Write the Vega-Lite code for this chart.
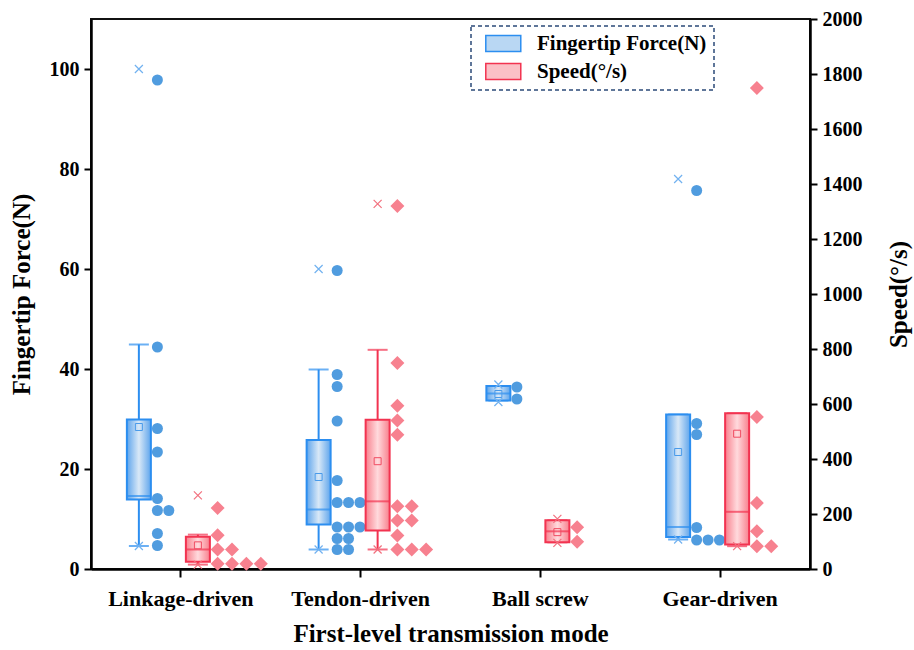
{
  "$schema": "https://vega.github.io/schema/vega-lite/v6.json",
  "width": 719,
  "height": 550,
  "autosize": {"type": "none"},
  "padding": {"left": 91, "top": 19, "right": 104, "bottom": 81},
  "background": "white",
  "config": {
    "view": {"stroke": "#111", "strokeWidth": 2},
    "font": "Liberation Serif",
    "axis": {
      "grid": false,
      "domainColor": "#000",
      "domainWidth": 2.5,
      "tickColor": "#000",
      "tickWidth": 2,
      "tickSize": 7,
      "labelFont": "Liberation Serif",
      "labelFontWeight": "bold",
      "labelFontSize": 20,
      "labelColor": "#000",
      "titleFont": "Liberation Serif",
      "titleFontWeight": "bold",
      "titleFontSize": 25,
      "titleColor": "#000"
    }
  },
  "datasets": {
    "boxes": [
      {"mode": "Linkage-driven", "series": "Fingertip Force(N)", "q1": 13.9, "median": 14.6, "q3": 29.9, "mean": 28.4, "lo": 4.6, "hi": 44.9, "min": 4.6, "max": 100},
      {"mode": "Tendon-driven", "series": "Fingertip Force(N)", "q1": 8.9, "median": 11.9, "q3": 25.8, "mean": 18.4, "lo": 3.9, "hi": 39.9, "min": 3.9, "max": 60},
      {"mode": "Ball screw", "series": "Fingertip Force(N)", "q1": 33.7, "median": 35.1, "q3": 36.6, "mean": 35.0, "lo": 33.7, "hi": 36.6, "min": 33.4, "max": 36.9},
      {"mode": "Gear-driven", "series": "Fingertip Force(N)", "q1": 6.4, "median": 8.4, "q3": 30.9, "mean": 23.4, "lo": 5.9, "hi": 30.9, "min": 5.9, "max": 78},
      {"mode": "Linkage-driven", "series": "Speed(°/s)", "q1": 26, "median": 71, "q3": 117, "mean": 86, "lo": 16, "hi": 125, "min": 16, "max": 268},
      {"mode": "Tendon-driven", "series": "Speed(°/s)", "q1": 140, "median": 246, "q3": 543, "mean": 392, "lo": 71, "hi": 797, "min": 71, "max": 1328},
      {"mode": "Ball screw", "series": "Speed(°/s)", "q1": 97, "median": 137, "q3": 177, "mean": 134, "lo": 97, "hi": 177, "min": 95, "max": 182},
      {"mode": "Gear-driven", "series": "Speed(°/s)", "q1": 89, "median": 208, "q3": 566, "mean": 492, "lo": 83, "hi": 566, "min": 83, "max": null}
    ],
    "points": [
      {"mode": "Linkage-driven", "series": "Fingertip Force(N)", "value": 97.8},
      {"mode": "Linkage-driven", "series": "Fingertip Force(N)", "value": 44.4},
      {"mode": "Linkage-driven", "series": "Fingertip Force(N)", "value": 28.1},
      {"mode": "Linkage-driven", "series": "Fingertip Force(N)", "value": 23.4},
      {"mode": "Linkage-driven", "series": "Fingertip Force(N)", "value": 14.1},
      {"mode": "Linkage-driven", "series": "Fingertip Force(N)", "value": 11.7},
      {"mode": "Linkage-driven", "series": "Fingertip Force(N)", "value": 11.7},
      {"mode": "Linkage-driven", "series": "Fingertip Force(N)", "value": 7.1},
      {"mode": "Linkage-driven", "series": "Fingertip Force(N)", "value": 4.7},
      {"mode": "Tendon-driven", "series": "Fingertip Force(N)", "value": 59.7},
      {"mode": "Tendon-driven", "series": "Fingertip Force(N)", "value": 38.9},
      {"mode": "Tendon-driven", "series": "Fingertip Force(N)", "value": 36.5},
      {"mode": "Tendon-driven", "series": "Fingertip Force(N)", "value": 29.6},
      {"mode": "Tendon-driven", "series": "Fingertip Force(N)", "value": 17.7},
      {"mode": "Tendon-driven", "series": "Fingertip Force(N)", "value": 13.3},
      {"mode": "Tendon-driven", "series": "Fingertip Force(N)", "value": 13.3},
      {"mode": "Tendon-driven", "series": "Fingertip Force(N)", "value": 13.3},
      {"mode": "Tendon-driven", "series": "Fingertip Force(N)", "value": 8.4},
      {"mode": "Tendon-driven", "series": "Fingertip Force(N)", "value": 8.4},
      {"mode": "Tendon-driven", "series": "Fingertip Force(N)", "value": 8.4},
      {"mode": "Tendon-driven", "series": "Fingertip Force(N)", "value": 6.1},
      {"mode": "Tendon-driven", "series": "Fingertip Force(N)", "value": 6.1},
      {"mode": "Tendon-driven", "series": "Fingertip Force(N)", "value": 3.9},
      {"mode": "Tendon-driven", "series": "Fingertip Force(N)", "value": 3.9},
      {"mode": "Ball screw", "series": "Fingertip Force(N)", "value": 36.4},
      {"mode": "Ball screw", "series": "Fingertip Force(N)", "value": 34.0},
      {"mode": "Gear-driven", "series": "Fingertip Force(N)", "value": 75.7},
      {"mode": "Gear-driven", "series": "Fingertip Force(N)", "value": 29.1},
      {"mode": "Gear-driven", "series": "Fingertip Force(N)", "value": 26.9},
      {"mode": "Gear-driven", "series": "Fingertip Force(N)", "value": 8.3},
      {"mode": "Gear-driven", "series": "Fingertip Force(N)", "value": 5.8},
      {"mode": "Gear-driven", "series": "Fingertip Force(N)", "value": 5.8},
      {"mode": "Gear-driven", "series": "Fingertip Force(N)", "value": 5.8},
      {"mode": "Linkage-driven", "series": "Speed(°/s)", "value": 222},
      {"mode": "Linkage-driven", "series": "Speed(°/s)", "value": 123},
      {"mode": "Linkage-driven", "series": "Speed(°/s)", "value": 71},
      {"mode": "Linkage-driven", "series": "Speed(°/s)", "value": 71},
      {"mode": "Linkage-driven", "series": "Speed(°/s)", "value": 19},
      {"mode": "Linkage-driven", "series": "Speed(°/s)", "value": 19},
      {"mode": "Linkage-driven", "series": "Speed(°/s)", "value": 19},
      {"mode": "Linkage-driven", "series": "Speed(°/s)", "value": 19},
      {"mode": "Tendon-driven", "series": "Speed(°/s)", "value": 1320},
      {"mode": "Tendon-driven", "series": "Speed(°/s)", "value": 749},
      {"mode": "Tendon-driven", "series": "Speed(°/s)", "value": 594},
      {"mode": "Tendon-driven", "series": "Speed(°/s)", "value": 540},
      {"mode": "Tendon-driven", "series": "Speed(°/s)", "value": 488},
      {"mode": "Tendon-driven", "series": "Speed(°/s)", "value": 228},
      {"mode": "Tendon-driven", "series": "Speed(°/s)", "value": 228},
      {"mode": "Tendon-driven", "series": "Speed(°/s)", "value": 176},
      {"mode": "Tendon-driven", "series": "Speed(°/s)", "value": 176},
      {"mode": "Tendon-driven", "series": "Speed(°/s)", "value": 122},
      {"mode": "Tendon-driven", "series": "Speed(°/s)", "value": 71},
      {"mode": "Tendon-driven", "series": "Speed(°/s)", "value": 71},
      {"mode": "Tendon-driven", "series": "Speed(°/s)", "value": 71},
      {"mode": "Ball screw", "series": "Speed(°/s)", "value": 152},
      {"mode": "Ball screw", "series": "Speed(°/s)", "value": 99},
      {"mode": "Gear-driven", "series": "Speed(°/s)", "value": 1749},
      {"mode": "Gear-driven", "series": "Speed(°/s)", "value": 553},
      {"mode": "Gear-driven", "series": "Speed(°/s)", "value": 240},
      {"mode": "Gear-driven", "series": "Speed(°/s)", "value": 137},
      {"mode": "Gear-driven", "series": "Speed(°/s)", "value": 83},
      {"mode": "Gear-driven", "series": "Speed(°/s)", "value": 83}
    ]
  },
  "encoding": {
    "x": {
      "field": "mode",
      "type": "nominal",
      "sort": ["Linkage-driven", "Tendon-driven", "Ball screw", "Gear-driven"],
      "scale": {"paddingInner": 0, "paddingOuter": 0},
      "title": "First-level transmission mode",
      "axis": {"labelAngle": 0, "labelPadding": 11, "titlePadding": 12, "tickSize": 8, "labelFontSize": 22}
    }
  },
  "layer": [
    {
      "data": {"name": "boxes"},
      "transform": [{"filter": "datum.series == 'Fingertip Force(N)'"}],
      "encoding": {
        "y": {"type": "quantitative", "scale": {"domain": [0, 110], "nice": false}, "title": "Fingertip Force(N)",
              "axis": {"orient": "left", "values": [0, 20, 40, 60, 80, 100], "labelPadding": 5, "titlePadding": 15}}
      },
      "layer": [
        {"mark": {"type": "rule", "xOffset": -42, "color": "#2C8EF0", "strokeWidth": 2},
         "encoding": {"y": {"field": "lo", "type": "quantitative", "title": "Fingertip Force(N)"}, "y2": {"field": "hi"}}},
        {"mark": {"type": "tick", "xOffset": -42, "color": "#2C8EF0", "size": 20, "thickness": 2},
         "encoding": {"y": {"field": "lo", "type": "quantitative", "title": "Fingertip Force(N)"}}},
        {"mark": {"type": "tick", "xOffset": -42, "color": "#2C8EF0", "size": 20, "thickness": 2},
         "encoding": {"y": {"field": "hi", "type": "quantitative", "title": "Fingertip Force(N)"}}},
        {"mark": {"type": "bar", "xOffset": -42, "size": 24},
         "encoding": {
           "y": {"field": "q3", "type": "quantitative", "title": "Fingertip Force(N)"}, "y2": {"field": "q1"},
           "fill": {"datum": "Fingertip Force(N)", "type": "nominal",
                    "scale": {"domain": ["Fingertip Force(N)", "Speed(°/s)"], "range": ["#B9D7F3", "#FBC0C6"]},
                    "legend": {
                      "orient": "none", "legendX": 380, "legendY": 7, "title": null, "direction": "vertical",
                      "symbolType": "M-0.31,-0.92H3.69V0.92H-0.31Z", "symbolSize": 306,
                      "labelFont": "Liberation Serif", "labelFontWeight": "bold", "labelFontSize": 21, "labelColor": "#000",
                      "labelOffset": 38, "labelLimit": 400, "rowPadding": 5, "padding": 7,
                      "strokeColor": "#2B4A78",
                      "encode": {
                        "legend": {"update": {"strokeDash": {"value": [4, 3]}, "strokeWidth": {"value": 1.5}}},
                        "symbols": {"update": {
                          "fill": {"signal": "datum.value == 'Fingertip Force(N)' ? {gradient: 'linear', x1: 0, y1: 0, x2: 1, y2: 0, stops: [{offset: 0, color: '#5FA5EC'}, {offset: 0.5, color: '#D8E8F7'}, {offset: 1, color: '#5FA5EC'}]} : {gradient: 'linear', x1: 0, y1: 0, x2: 1, y2: 0, stops: [{offset: 0, color: '#F8808D'}, {offset: 0.5, color: '#FFDADD'}, {offset: 1, color: '#F8808D'}]}"},
                          "stroke": {"signal": "datum.value == 'Fingertip Force(N)' ? '#2C8EF0' : '#F23350'"},
                          "strokeWidth": {"value": 1.5},
                          "opacity": {"value": 1}
                        }}
                      }
                    }}
         }},
        {"mark": {"type": "bar", "xOffset": -42, "size": 24, "stroke": "#2C8EF0", "strokeWidth": 2,
                  "fill": {"gradient": "linear", "x1": 0, "y1": 0, "x2": 1, "y2": 0,
                           "stops": [{"offset": 0, "color": "#5FA5EC"}, {"offset": 0.5, "color": "#D8E8F7"}, {"offset": 1, "color": "#5FA5EC"}]}},
         "encoding": {"y": {"field": "q3", "type": "quantitative", "title": "Fingertip Force(N)"}, "y2": {"field": "q1"}}},
        {"mark": {"type": "tick", "xOffset": -42, "color": "#2C8EF0", "size": 24, "thickness": 2},
         "encoding": {"y": {"field": "median", "type": "quantitative", "title": "Fingertip Force(N)"}}},
        {"mark": {"type": "point", "xOffset": -42, "shape": "square", "size": 49, "filled": false, "stroke": "#4A9BEA", "strokeWidth": 1, "opacity": 1},
         "encoding": {"y": {"field": "mean", "type": "quantitative", "title": "Fingertip Force(N)"}}},
        {"mark": {"type": "point", "xOffset": -42, "shape": "M-1,-1L1,1M-1,1L1,-1", "size": 64, "filled": false, "stroke": "#72B2F0", "strokeWidth": 1.2, "opacity": 1},
         "encoding": {"y": {"field": "min", "type": "quantitative", "title": "Fingertip Force(N)"}}},
        {"mark": {"type": "point", "xOffset": -42, "shape": "M-1,-1L1,1M-1,1L1,-1", "size": 64, "filled": false, "stroke": "#72B2F0", "strokeWidth": 1.2, "opacity": 1},
         "encoding": {"y": {"field": "max", "type": "quantitative", "title": "Fingertip Force(N)"}}},
        {"data": {"name": "points"},
         "transform": [{"filter": "datum.series == 'Fingertip Force(N)'"}, {"window": [{"op": "row_number", "as": "col"}], "groupby": ["mode", "value"]}],
         "mark": {"type": "point", "shape": "circle", "filled": true, "size": 121, "color": "#509CDF", "opacity": 1},
         "encoding": {
           "y": {"field": "value", "type": "quantitative", "title": "Fingertip Force(N)"},
           "xOffset": {"field": "col", "type": "quantitative", "scale": {"domain": [1, 2], "range": [66.4, 77.8], "zero": false, "nice": false}}
         }}
      ]
    },
    {
      "data": {"name": "boxes"},
      "transform": [{"filter": "datum.series != 'Fingertip Force(N)'"}],
      "encoding": {
        "y": {"type": "quantitative", "scale": {"domain": [0, 2000], "nice": false}, "title": "Speed(°/s)",
              "axis": {"orient": "right", "values": [0, 200, 400, 600, 800, 1000, 1200, 1400, 1600, 1800, 2000], "format": "d", "labelPadding": 5, "titlePadding": 24, "titleAngle": 270, "titleBaseline": "top"}}
      },
      "layer": [
        {"mark": {"type": "rule", "xOffset": 17, "color": "#F23350", "strokeWidth": 2},
         "encoding": {"y": {"field": "lo", "type": "quantitative", "title": "Speed(°/s)"}, "y2": {"field": "hi"}}},
        {"mark": {"type": "tick", "xOffset": 17, "color": "#F23350", "size": 20, "thickness": 2},
         "encoding": {"y": {"field": "lo", "type": "quantitative", "title": "Speed(°/s)"}}},
        {"mark": {"type": "tick", "xOffset": 17, "color": "#F23350", "size": 20, "thickness": 2},
         "encoding": {"y": {"field": "hi", "type": "quantitative", "title": "Speed(°/s)"}}},
        {"mark": {"type": "bar", "xOffset": 17, "size": 24},
         "encoding": {
           "y": {"field": "q3", "type": "quantitative", "title": "Speed(°/s)"}, "y2": {"field": "q1"},
           "fill": {"datum": "Speed(°/s)", "type": "nominal"}
         }},
        {"mark": {"type": "bar", "xOffset": 17, "size": 24, "stroke": "#F23350", "strokeWidth": 2,
                  "fill": {"gradient": "linear", "x1": 0, "y1": 0, "x2": 1, "y2": 0,
                           "stops": [{"offset": 0, "color": "#F8808D"}, {"offset": 0.5, "color": "#FFDADD"}, {"offset": 1, "color": "#F8808D"}]}},
         "encoding": {"y": {"field": "q3", "type": "quantitative", "title": "Speed(°/s)"}, "y2": {"field": "q1"}}},
        {"mark": {"type": "tick", "xOffset": 17, "color": "#F23350", "size": 24, "thickness": 2},
         "encoding": {"y": {"field": "median", "type": "quantitative", "title": "Speed(°/s)"}}},
        {"mark": {"type": "point", "xOffset": 17, "shape": "square", "size": 49, "filled": false, "stroke": "#F04C62", "strokeWidth": 1, "opacity": 1},
         "encoding": {"y": {"field": "mean", "type": "quantitative", "title": "Speed(°/s)"}}},
        {"mark": {"type": "point", "xOffset": 17, "shape": "M-1,-1L1,1M-1,1L1,-1", "size": 64, "filled": false, "stroke": "#F2707E", "strokeWidth": 1.2, "opacity": 1},
         "encoding": {"y": {"field": "min", "type": "quantitative", "title": "Speed(°/s)"}}},
        {"mark": {"type": "point", "xOffset": 17, "shape": "M-1,-1L1,1M-1,1L1,-1", "size": 64, "filled": false, "stroke": "#F2707E", "strokeWidth": 1.2, "opacity": 1},
         "encoding": {"y": {"field": "max", "type": "quantitative", "title": "Speed(°/s)"}}},
        {"data": {"name": "points"},
         "transform": [{"filter": "datum.series != 'Fingertip Force(N)'"}, {"window": [{"op": "row_number", "as": "col"}], "groupby": ["mode", "value"]}],
         "mark": {"type": "point", "shape": "diamond", "filled": true, "size": 196, "color": "#F7818F", "opacity": 1},
         "encoding": {
           "y": {"field": "value", "type": "quantitative", "title": "Speed(°/s)"},
           "xOffset": {"field": "col", "type": "quantitative", "scale": {"domain": [1, 2], "range": [126.6, 141.0], "zero": false, "nice": false}}
         }}
      ]
    }
  ],
  "resolve": {"scale": {"y": "independent", "xOffset": "independent"}}
}
